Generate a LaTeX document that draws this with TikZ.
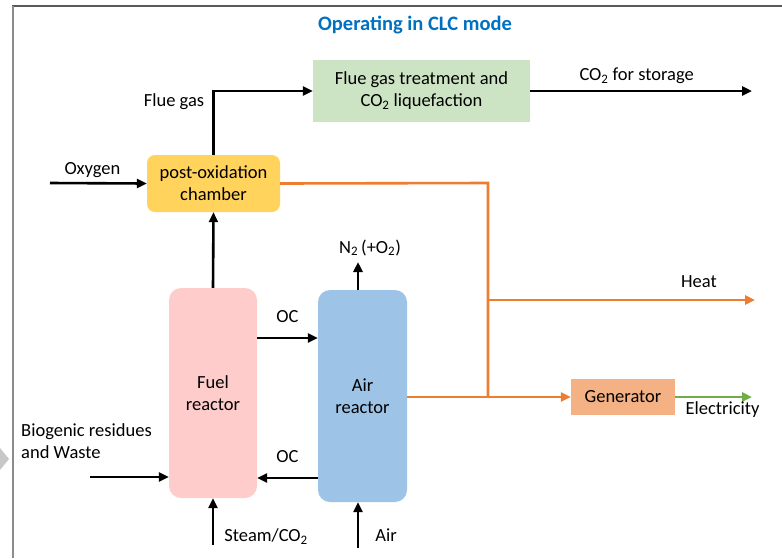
\documentclass[tikz,border=0pt]{standalone}
\usepackage{fontspec}
\setmainfont{Carlito}
\usetikzlibrary{arrows.meta,positioning}
\definecolor{titleblue}{RGB}{0,112,192}
\definecolor{boxgreen}{RGB}{204,228,196}
\definecolor{boxgold}{RGB}{255,211,92}
\definecolor{boxpink}{RGB}{255,204,204}
\definecolor{boxblue}{RGB}{157,195,230}
\definecolor{boxorange}{RGB}{244,177,131}
\definecolor{heatorange}{RGB}{237,125,49}
\definecolor{elgreen}{RGB}{112,173,71}

\begin{document}
\begin{tikzpicture}[x=1pt,y=-1pt, font={\fontsize{18.5}{22}\selectfont},
    unit/.style={inner sep=0pt,align=center},
    flow/.style={line width=2.6pt,-{Triangle[length=10pt,width=9pt]}},
    heat/.style={line width=2.6pt,heatorange},
    label/.style={inner sep=1pt}]
\useasboundingbox (0,0) rectangle (782,558);
% frame of the slide
\draw[line width=1.5pt,black!65] (12,6) -- (782,6);
\draw[line width=1.5pt,black!45] (13,6) -- (13,558);
\fill[black!22] (0,448) -- (9,459) -- (0,470) -- cycle;

\node[titleblue,font={\fontsize{20.5}{24}\selectfont\bfseries}] (title) at (415,25) {Operating in CLC mode};

% units
\node[unit,fill=boxgreen,minimum width=217pt,minimum height=62pt] (treat) at (421.5,91)
    {Flue gas treatment and\\CO\textsubscript{2} liquefaction};
\node[unit,fill=boxgold,rounded corners=8pt,minimum width=133pt,minimum height=57pt] (post) at (213.5,183.5)
    {post-oxidation\\chamber};
\node[unit,fill=boxpink,rounded corners=12pt,minimum width=88pt,minimum height=210pt] (fuel) at (213,393)
    {Fuel\\reactor};
\node[unit,fill=boxblue,rounded corners=12pt,minimum width=89pt,minimum height=212pt] (air) at (362.5,396)
    {Air\\reactor};
\node[unit,fill=boxorange,minimum width=104pt,minimum height=36pt] (gen) at (623,397) {Generator};

% free ends
\coordinate (storage) at (752,91);
\coordinate (oxin) at (50,183);
\coordinate (split) at (488,183);
\coordinate (heatout) at (755,300);
\coordinate (elout) at (752,397);
\coordinate (nout) at (358,262);
\coordinate (bioin) at (90,477);
\coordinate (steamin) at (213,545);
\coordinate (airin) at (358,548);

% black streams
\draw[flow] (treat.east) -- (storage) node[label,pos=0.48,above=5pt] {CO\textsubscript{2} for storage};
\draw[flow] (post.north) |- (treat.west) node[label,pos=0.42,left=7pt] {Flue gas};
\draw[flow] (oxin) -- (post.west) node[label,midway,above=3pt,xshift=-6pt] {Oxygen};
\draw[flow] (fuel.north) -- (post.south);
\draw[flow] (fuel.east |- 0,338) -- (air.west |- 0,338) node[label,midway,above=13pt] {OC};
\draw[flow] (air.west |- 0,478) -- (fuel.east |- 0,478) node[label,midway,above=13pt] {OC};
\draw[flow] (air.north -| nout) -- (nout) node[label,above=4pt,xshift=12pt] {N\textsubscript{2}\,(+O\textsubscript{2})};
\draw[flow] (bioin) -- (fuel.west |- bioin);
\node[label,align=left,anchor=north west] (bio) at (20,422) {Biogenic residues\\and Waste};
\draw[flow] (steamin) -- (fuel.south) node[label,pos=0.18,right=9pt] {Steam/CO\textsubscript{2}};
\draw[flow] (airin) -- (air.south -| airin) node[label,pos=0.28,right=15pt] {Air};

% heat and power
\draw[heat] (post.east) -- (split) -- (split |- gen.west);
\draw[heat,-{Triangle[length=10pt,width=9pt]}] (split |- heatout) -- (heatout)
    node[label,pos=0.79,above=10pt,black] {Heat};
\draw[heat,-{Triangle[length=10pt,width=9pt]}] (air.east |- gen.west) -- (gen.west);
\draw[line width=2.6pt,elgreen,-{Triangle[length=10pt,width=9pt]}] (gen.east) -- (elout)
    node[label,midway,below=2pt,black,xshift=9pt] {Electricity};
\end{tikzpicture}
\end{document}
